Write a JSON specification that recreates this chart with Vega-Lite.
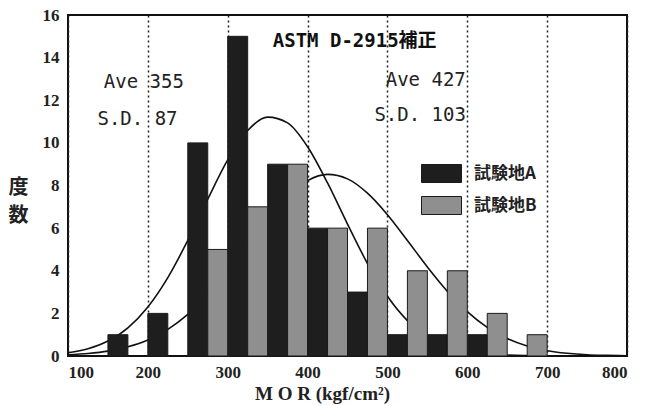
{
  "$schema": "https://vega.github.io/schema/vega-lite/v6.json",
  "width": 559,
  "height": 341,
  "autosize": {"type": "none"},
  "padding": {"left": 68, "top": 15, "right": 18, "bottom": 50},
  "background": "white",
  "config": {
    "view": {"stroke": "#111", "strokeWidth": 2}
  },
  "datasets": {
    "bars": [
      {"x": 150, "xe": 175, "g": "試験地A", "y": 1},
      {"x": 200, "xe": 225, "g": "試験地A", "y": 2},
      {"x": 250, "xe": 275, "g": "試験地A", "y": 10},
      {"x": 300, "xe": 325, "g": "試験地A", "y": 15},
      {"x": 350, "xe": 375, "g": "試験地A", "y": 9},
      {"x": 400, "xe": 425, "g": "試験地A", "y": 6},
      {"x": 450, "xe": 475, "g": "試験地A", "y": 3},
      {"x": 500, "xe": 525, "g": "試験地A", "y": 1},
      {"x": 550, "xe": 575, "g": "試験地A", "y": 1},
      {"x": 600, "xe": 625, "g": "試験地A", "y": 1},
      {"x": 275, "xe": 300, "g": "試験地B", "y": 5},
      {"x": 325, "xe": 350, "g": "試験地B", "y": 7},
      {"x": 375, "xe": 400, "g": "試験地B", "y": 9},
      {"x": 425, "xe": 450, "g": "試験地B", "y": 6},
      {"x": 475, "xe": 500, "g": "試験地B", "y": 6},
      {"x": 525, "xe": 550, "g": "試験地B", "y": 4},
      {"x": 575, "xe": 600, "g": "試験地B", "y": 4},
      {"x": 625, "xe": 650, "g": "試験地B", "y": 2},
      {"x": 675, "xe": 700, "g": "試験地B", "y": 1}
    ],
    "curves": [
      {"x": 100, "y": 0.15, "c": "A"}, {"x": 125, "y": 0.34, "c": "A"}, {"x": 150, "y": 0.7, "c": "A"},
      {"x": 175, "y": 1.32, "c": "A"}, {"x": 200, "y": 2.3, "c": "A"}, {"x": 225, "y": 3.68, "c": "A"},
      {"x": 250, "y": 5.42, "c": "A"}, {"x": 275, "y": 7.36, "c": "A"}, {"x": 300, "y": 9.2, "c": "A"},
      {"x": 325, "y": 10.58, "c": "A"}, {"x": 350, "y": 11.21, "c": "A"}, {"x": 375, "y": 10.94, "c": "A"},
      {"x": 400, "y": 9.82, "c": "A"}, {"x": 425, "y": 8.12, "c": "A"}, {"x": 450, "y": 6.19, "c": "A"},
      {"x": 475, "y": 4.34, "c": "A"}, {"x": 500, "y": 2.8, "c": "A"}, {"x": 525, "y": 1.66, "c": "A"},
      {"x": 550, "y": 0.91, "c": "A"}, {"x": 575, "y": 0.46, "c": "A"}, {"x": 600, "y": 0.21, "c": "A"},
      {"x": 625, "y": 0.09, "c": "A"}, {"x": 650, "y": 0.04, "c": "A"}, {"x": 700, "y": 0.01, "c": "A"},
      {"x": 800, "y": 0, "c": "A"},
      {"x": 100, "y": 0.06, "c": "B"}, {"x": 125, "y": 0.12, "c": "B"}, {"x": 150, "y": 0.23, "c": "B"},
      {"x": 175, "y": 0.43, "c": "B"}, {"x": 200, "y": 0.75, "c": "B"}, {"x": 225, "y": 1.25, "c": "B"},
      {"x": 250, "y": 1.95, "c": "B"}, {"x": 275, "y": 2.87, "c": "B"}, {"x": 300, "y": 3.98, "c": "B"},
      {"x": 325, "y": 5.22, "c": "B"}, {"x": 350, "y": 6.44, "c": "B"}, {"x": 375, "y": 7.5, "c": "B"},
      {"x": 400, "y": 8.23, "c": "B"}, {"x": 425, "y": 8.52, "c": "B"}, {"x": 450, "y": 8.31, "c": "B"},
      {"x": 475, "y": 7.64, "c": "B"}, {"x": 500, "y": 6.63, "c": "B"}, {"x": 525, "y": 5.42, "c": "B"},
      {"x": 550, "y": 4.18, "c": "B"}, {"x": 575, "y": 3.04, "c": "B"}, {"x": 600, "y": 2.08, "c": "B"},
      {"x": 625, "y": 1.34, "c": "B"}, {"x": 650, "y": 0.82, "c": "B"}, {"x": 675, "y": 0.47, "c": "B"},
      {"x": 700, "y": 0.25, "c": "B"}, {"x": 725, "y": 0.13, "c": "B"}, {"x": 750, "y": 0.06, "c": "B"},
      {"x": 775, "y": 0.03, "c": "B"}, {"x": 800, "y": 0.01, "c": "B"}
    ],
    "gridY": [
      {"y": 2}, {"y": 4}, {"y": 6}, {"y": 8}, {"y": 10}, {"y": 12}, {"y": 14}
    ],
    "stats": [
      {"x": 195, "y": 12.85, "t": "Ave 355"},
      {"x": 187, "y": 11.1, "t": "S.D. 87"},
      {"x": 548, "y": 12.95, "t": "Ave 427"},
      {"x": 541, "y": 11.3, "t": "S.D. 103"}
    ],
    "heading": [
      {"x": 459, "y": 14.8, "t": "ASTM D-2915補正"}
    ]
  },
  "encoding": {
    "x": {
      "field": "x", "type": "quantitative",
      "scale": {"domain": [100, 800], "nice": false, "zero": false},
      "axis": {
        "orient": "bottom", "domain": false,
        "values": [100, 200, 300, 400, 500, 600, 700, 800],
        "grid": true, "gridDash": [2, 3], "gridColor": "#222", "gridWidth": 1.5,
        "ticks": false, "labelPadding": 8,
        "labelFont": "Liberation Serif", "labelFontSize": 17, "labelFontWeight": "bold", "labelColor": "#222",
        "title": "M O R  (kgf/cm²)",
        "titleFont": "Liberation Serif", "titleFontSize": 19, "titleFontWeight": "bold", "titleColor": "#222",
        "titleX": 254, "titleY": 37, "titleBaseline": "middle", "titleAlign": "center"
      }
    },
    "y": {
      "field": "y", "type": "quantitative",
      "scale": {"domain": [0, 16], "nice": false},
      "axis": {
        "orient": "left", "domain": false,
        "values": [0, 2, 4, 6, 8, 10, 12, 14, 16],
        "grid": false,
        "ticks": false, "labelPadding": 9,
        "labelFont": "Liberation Serif", "labelFontSize": 17, "labelFontWeight": "bold", "labelColor": "#222",
        "title": ["度", "数"], "titleAngle": 0,
        "titleFont": "Noto Sans CJK JP", "titleFontSize": 20, "titleFontWeight": "bold", "titleColor": "#222",
        "titleLineHeight": 28,
        "titleX": -50, "titleY": 172, "titleBaseline": "middle", "titleAlign": "center"
      }
    }
  },
  "layer": [
    {
      "data": {"name": "gridY"},
      "mark": {"type": "rule", "color": "#222", "strokeWidth": 1.5, "strokeDash": [2, 3]},
      "encoding": {
        "x": {"datum": 100, "type": "quantitative"},
        "x2": {"datum": 800}
      }
    },
    {
      "data": {"name": "curves"},
      "mark": {"type": "line", "color": "#111", "strokeWidth": 1.6, "interpolate": "monotone"},
      "encoding": {
        "detail": {"field": "c"}
      }
    },
    {
      "data": {"name": "bars"},
      "mark": {"type": "bar", "stroke": "#1a1a1a", "strokeWidth": 1},
      "encoding": {
        "x2": {"field": "xe"},
        "y2": {"datum": 0},
        "color": {
          "field": "g", "type": "nominal",
          "scale": {"domain": ["試験地A", "試験地B"], "range": ["#1e1e1e", "#8f8f8f"]},
          "legend": {
            "orient": "none", "legendX": 353, "legendY": 138,
            "title": null,
            "symbolType": "M-1,-0.45H1V0.45H-1Z", "symbolSize": 1600,
            "symbolStrokeColor": "#1a1a1a", "symbolStrokeWidth": 1, "symbolOpacity": 1,
            "labelFont": "Noto Sans CJK JP", "labelFontSize": 17, "labelFontWeight": "bold", "labelColor": "#222",
            "labelOffset": 12, "rowPadding": -17
          }
        }
      }
    },
    {
      "data": {"name": "stats"},
      "mark": {"type": "text", "font": "DejaVu Sans Mono", "fontSize": 19, "color": "#222", "align": "center", "baseline": "middle"},
      "encoding": {
        "text": {"field": "t"}
      }
    },
    {
      "data": {"name": "heading"},
      "mark": {"type": "text", "font": "DejaVu Sans Mono, Noto Sans CJK JP", "fontSize": 19, "fontWeight": "bold", "color": "#111", "align": "center", "baseline": "middle"},
      "encoding": {
        "text": {"field": "t"}
      }
    }
  ]
}
